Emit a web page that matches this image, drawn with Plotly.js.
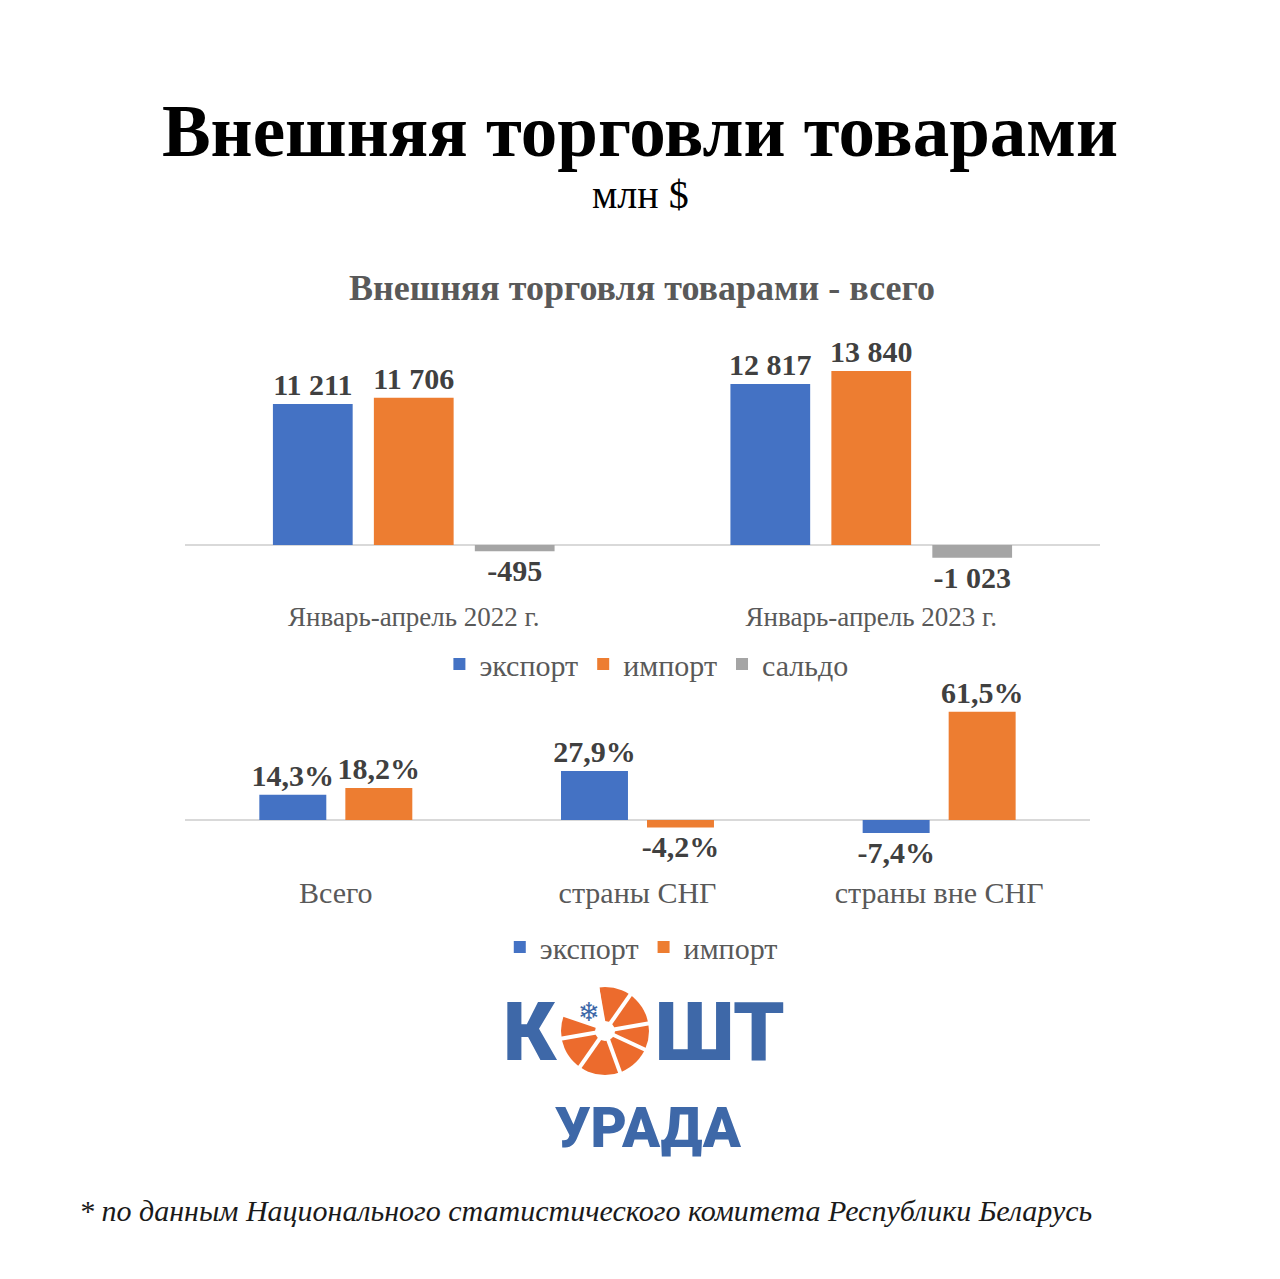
<!DOCTYPE html>
<html>
<head>
<meta charset="utf-8">
<script src="https://cdn.plot.ly/plotly-3.0.1.min.js"></script>
<style>
  html, body { margin: 0; padding: 0; background: #ffffff; }
  #chart { width: 1280px; height: 1279px; }
</style>
</head>
<body>
<div id="chart"></div>
<script>
// ---- Data ----
const periodCategories = ['Январь-апрель 2022 г.', 'Январь-апрель 2023 г.'];
const exportValues = [11211, 12817];
const importValues = [11706, 13840];
const balanceValues = [-495, -1023];

const regionCategories = ['Всего', 'страны СНГ', 'страны вне СНГ'];
const exportGrowth = [14.3, 27.9, -7.4];
const importGrowth = [18.2, -4.2, 61.5];

const seriesNames = ['экспорт', 'импорт', 'сальдо'];

// ---- Styles ----
const BLUE = '#4472C4', ORANGE = '#ED7D31', GRAY = '#A5A5A5';
const SERIF = '"Liberation Serif", "Times New Roman", serif';
const topLabelFont = { family: SERIF, size: 30, color: '#404040', weight: 'bold' };
const botLabelFont = { family: SERIF, size: 30, color: '#404040', weight: 'bold' };
const LOGO_BLUE = '#3E68A8', LOGO_ORANGE = '#EC6B2D';

const H = 1279, W = 1280;
const py = v => 1 - v / H;
const px = v => v / W;

const topTrace = (name, y, color) => ({
  type: 'bar', name: name, x: periodCategories, y: y,
  marker: { color: color },
  xaxis: 'x', yaxis: 'y', legend: 'legend',
  texttemplate: '%{y:,}', textposition: 'outside', cliponaxis: false, constraintext: 'none',
  textfont: topLabelFont, hoverinfo: 'skip'
});

const botTrace = (name, y, color, offset) => ({
  type: 'bar', name: name, x: regionCategories, y: y,
  marker: { color: color },
  xaxis: 'x2', yaxis: 'y2', legend: 'legend2',
  width: 0.222, offset: offset,
  texttemplate: '%{y:.1f}%', textposition: 'outside', cliponaxis: false, constraintext: 'none',
  textfont: botLabelFont, hoverinfo: 'skip'
});

const data = [
  topTrace(seriesNames[0], exportValues, BLUE),
  topTrace(seriesNames[1], importValues, ORANGE),
  topTrace(seriesNames[2], balanceValues, GRAY),
  botTrace(seriesNames[0], exportGrowth, BLUE, -0.2536),
  botTrace(seriesNames[1], importGrowth, ORANGE, 0.0315)
];

const hiddenY = { showgrid: false, showticklabels: false, zeroline: true,
  zerolinecolor: '#D9D9D9', zerolinewidth: 1.5, showline: false, fixedrange: true };

// orange "О" of the logo: circle + white cuts
const cx = 605, cy = 1031, r = 44;
const cuts = [];
[10, 55, 100, 145, 190, 235, 290, 335].forEach(a => {
  const rad = a * Math.PI / 180;
  cuts.push({ type: 'line', xref: 'paper', yref: 'paper',
    x0: px(cx), y0: py(cy),
    x1: px(cx + (r + 4) * Math.cos(rad)), y1: py(cy - (r + 4) * Math.sin(rad)),
    line: { color: '#ffffff', width: 4 } });
});

const layout = {
  width: W, height: H,
  margin: { l: 0, r: 0, t: 0, b: 0 },
  paper_bgcolor: '#ffffff', plot_bgcolor: '#ffffff',
  separators: ', ',
  showlegend: true,
  barmode: 'group', bargap: 0.338, bargroupgap: 0.21,
  font: { family: SERIF, color: '#595959' },
  title: {
    text: 'Внешняя торговли товарами',
    x: 0.5, xanchor: 'center', xref: 'paper',
    y: py(130), yanchor: 'middle', yref: 'paper',
    font: { family: SERIF, size: 73, color: '#000000', weight: 'bold' }
  },
  xaxis: { domain: [px(185), px(1100)], anchor: 'y', showgrid: false, showline: false,
    ticks: '', tickfont: { family: SERIF, size: 27, color: '#595959' }, fixedrange: true },
  yaxis: Object.assign({ domain: [py(598), py(330)], anchor: 'x',
    range: [-(598 - 545) / 0.01257, (545 - 330) / 0.01257] }, hiddenY),
  xaxis2: { domain: [px(185), px(1090)], anchor: 'y2', showgrid: false, showline: false,
    ticks: '', tickfont: { family: SERIF, size: 30, color: '#595959' }, fixedrange: true },
  yaxis2: Object.assign({ domain: [py(872), py(690)], anchor: 'x2',
    range: [-(872 - 820) / 1.76, (820 - 690) / 1.76] }, hiddenY),
  legend: { orientation: 'h', x: 0.505, xanchor: 'center', y: py(664), yanchor: 'middle',
    font: { family: SERIF, size: 30, color: '#595959' }, itemclick: false, itemdoubleclick: false },
  legend2: { orientation: 'h', x: 0.501, xanchor: 'center', y: py(947), yanchor: 'middle',
    font: { family: SERIF, size: 30, color: '#595959' }, itemclick: false, itemdoubleclick: false },
  annotations: [
    { text: 'млн $', xref: 'paper', yref: 'paper', x: 0.5, y: py(195), yanchor: 'middle',
      showarrow: false, font: { family: SERIF, size: 40, color: '#000000' } },
    { text: 'Внешняя торговля товарами - всего', xref: 'paper', yref: 'paper', x: px(642), y: py(288),
      yanchor: 'middle', showarrow: false, font: { family: SERIF, size: 36, color: '#595959', weight: 'bold' } },
    { text: 'К', xref: 'paper', yref: 'paper', x: px(530), y: py(1032), xanchor: 'center', yanchor: 'middle',
      showarrow: false, font: { family: 'Roboto, sans-serif', size: 82, color: LOGO_BLUE, weight: 900 } },
    { text: 'ШТ', xref: 'paper', yref: 'paper', x: px(720), y: py(1032), xanchor: 'center', yanchor: 'middle',
      showarrow: false, font: { family: 'Roboto, sans-serif', size: 82, color: LOGO_BLUE, weight: 900 } },
    { text: '❄', xref: 'paper', yref: 'paper', x: px(589), y: py(1012), xanchor: 'center', yanchor: 'middle',
      showarrow: false, font: { family: '"DejaVu Sans", sans-serif', size: 26, color: LOGO_BLUE } },
    { text: 'УРАДА', xref: 'paper', yref: 'paper', x: px(648), y: py(1128), xanchor: 'center', yanchor: 'middle',
      showarrow: false, font: { family: 'Roboto, sans-serif', size: 56, color: LOGO_BLUE, weight: 900 } },
    { text: '<i>* по данным Национального статистического комитета Республики Беларусь</i>', xref: 'paper', yref: 'paper',
      x: px(585), y: py(1210), xanchor: 'center', yanchor: 'middle',
      showarrow: false, font: { family: SERIF, size: 30, color: '#1a1a1a' } }
  ],
  shapes: [
    { type: 'circle', xref: 'paper', yref: 'paper', layer: 'below',
      x0: px(cx - r), x1: px(cx + r), y0: py(cy + r), y1: py(cy - r),
      fillcolor: LOGO_ORANGE, line: { width: 0 } },
    // white upper-left area for the snowflake
    { type: 'path', xref: 'paper', yref: 'paper', layer: 'below',
      path: 'M ' + px(cx) + ' ' + py(cy) + ' L ' + px(cx - r - 3) + ' ' + py(cy - 16) +
            ' L ' + px(cx - r - 3) + ' ' + py(cy - r - 3) + ' L ' + px(cx - 6) + ' ' + py(cy - r - 3) + ' Z',
      fillcolor: '#ffffff', line: { width: 0 } },
    ...cuts,
    { type: 'circle', xref: 'paper', yref: 'paper',
      x0: px(cx - 10), x1: px(cx + 10), y0: py(cy + 10), y1: py(cy - 10),
      fillcolor: '#ffffff', line: { width: 0 } }
  ]
};

Plotly.newPlot('chart', data, layout, { displayModeBar: false, staticPlot: true });
</script>
</body>
</html>
